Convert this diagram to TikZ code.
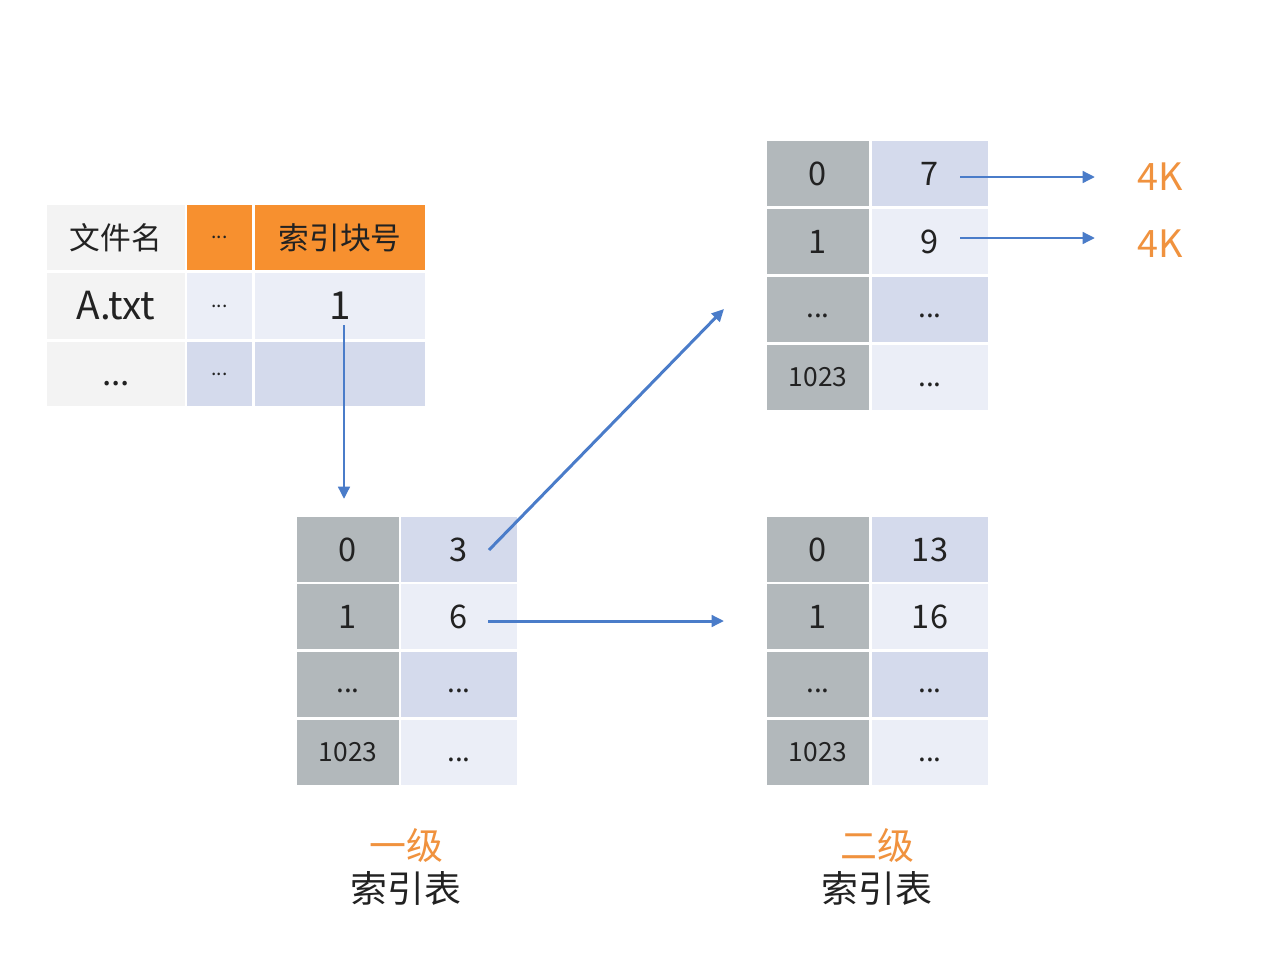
\documentclass[tikz,border=0pt]{standalone}
\usepackage{fontspec}
\setmainfont{Noto Sans CJK SC}
\usetikzlibrary{arrows.meta}
\definecolor{lgray}{HTML}{F3F3F3}
\definecolor{dgray}{HTML}{B2B8BB}
\definecolor{lblue}{HTML}{EBEEF7}
\definecolor{mblue}{HTML}{D4DAEC}
\definecolor{orng}{HTML}{F7902F}
\definecolor{otext}{HTML}{F0923E}
\definecolor{ablue}{HTML}{4A7CC9}
\definecolor{tblack}{HTML}{222222}
\newcommand\tcell[7]{\node[cell,fill=#6,minimum width=#4*0.02cm,minimum height=#5*0.02cm] (#1) at (#2,#3) {#7};}
\newcommand\dts[1]{\raisebox{-#1}[0pt][0pt]{\fontsize{16}{16}\selectfont ...}}
\tikzset{
  cell/.style={inner sep=0pt,outer sep=0pt,text=tblack},
  arr/.style={draw=ablue,line width=1.7pt,-{Triangle[length=7pt,width=6.5pt]}},
}
\begin{document}
\begin{tikzpicture}[x=0.02cm,y=-0.02cm]
\useasboundingbox[fill=white] (0,0) rectangle (1272,974);
% file table
\tcell{f11}{116}{237.5}{138}{65}{lgray}{\fontsize{17.5}{18}\selectfont 文件名}
\tcell{f12}{219.5}{237.5}{65}{65}{orng}{\fontsize{11}{11}\selectfont ...}
\tcell{f13}{340}{237.5}{170}{65}{orng}{\fontsize{17.5}{18}\selectfont 索引块号}
\tcell{f21}{116}{306}{138}{66}{lgray}{\fontsize{22}{22}\selectfont A.txt}
\tcell{f22}{219.5}{306}{65}{66}{lblue}{\fontsize{11}{11}\selectfont ...}
\tcell{f23}{340}{306}{170}{66}{lblue}{\fontsize{22}{22}\selectfont 1}
\tcell{f31}{116}{374}{138}{64}{lgray}{\raisebox{-6.5pt}[0pt][0pt]{\fontsize{19}{19}\selectfont ...}}
\tcell{f32}{219.5}{374}{65}{64}{mblue}{\fontsize{11}{11}\selectfont ...}
\tcell{f33}{340}{374}{170}{64}{mblue}{}
% level 1 table
\tcell{a11}{348}{549.5}{102}{65}{dgray}{\fontsize{18.5}{19}\selectfont 0}
\tcell{a12}{459}{549.5}{116}{65}{mblue}{\fontsize{18.5}{19}\selectfont 3}
\tcell{a21}{348}{616.5}{102}{65}{dgray}{\fontsize{18.5}{19}\selectfont 1}
\tcell{a22}{459}{616.5}{116}{65}{lblue}{\fontsize{18.5}{19}\selectfont 6}
\tcell{a31}{348}{684.5}{102}{65}{dgray}{\dts{4.4pt}}
\tcell{a32}{459}{684.5}{116}{65}{mblue}{\dts{4.4pt}}
\tcell{a41}{348}{752.5}{102}{65}{dgray}{\fontsize{15}{15}\selectfont 1023}
\tcell{a42}{459}{752.5}{116}{65}{lblue}{\dts{5pt}}
% level 2 top table
\tcell{b11}{818}{173.5}{102}{65}{dgray}{\fontsize{18.5}{19}\selectfont 0}
\tcell{b12}{930}{173.5}{116}{65}{mblue}{\fontsize{18.5}{19}\selectfont 7}
\tcell{b21}{818}{241.5}{102}{65}{dgray}{\fontsize{18.5}{19}\selectfont 1}
\tcell{b22}{930}{241.5}{116}{65}{lblue}{\fontsize{18.5}{19}\selectfont 9}
\tcell{b31}{818}{309.5}{102}{65}{dgray}{\dts{4.4pt}}
\tcell{b32}{930}{309.5}{116}{65}{mblue}{\dts{4.4pt}}
\tcell{b41}{818}{377.5}{102}{65}{dgray}{\fontsize{15}{15}\selectfont 1023}
\tcell{b42}{930}{377.5}{116}{65}{lblue}{\dts{5pt}}
% level 2 bottom table
\tcell{c11}{818}{549.5}{102}{65}{dgray}{\fontsize{18.5}{19}\selectfont 0}
\tcell{c12}{930}{549.5}{116}{65}{mblue}{\fontsize{18.5}{19}\selectfont 13}
\tcell{c21}{818}{616.5}{102}{65}{dgray}{\fontsize{18.5}{19}\selectfont 1}
\tcell{c22}{930}{616.5}{116}{65}{lblue}{\fontsize{18.5}{19}\selectfont 16}
\tcell{c31}{818}{684.5}{102}{65}{dgray}{\dts{4.4pt}}
\tcell{c32}{930}{684.5}{116}{65}{mblue}{\dts{4.4pt}}
\tcell{c41}{818}{752.5}{102}{65}{dgray}{\fontsize{15}{15}\selectfont 1023}
\tcell{c42}{930}{752.5}{116}{65}{lblue}{\dts{5pt}}
% 4K labels
\node[text=otext,font=\fontsize{21.5}{22}\selectfont,inner sep=0pt] (k1) at (1160,177) {4K};
\node[text=otext,font=\fontsize{21.5}{22}\selectfont,inner sep=0pt] (k2) at (1160,244) {4K};
% bottom labels
\node[text=otext,font=\fontsize{21}{21}\selectfont,inner sep=0pt] (l1a) at (406,845) {一级};
\node[text=tblack,font=\fontsize{21}{21}\selectfont,inner sep=0pt] (l1b) at (406,888) {索引表};
\node[text=otext,font=\fontsize{21}{21}\selectfont,inner sep=0pt] (l2a) at (877,845) {二级};
\node[text=tblack,font=\fontsize{21}{21}\selectfont,inner sep=0pt] (l2b) at (877,888) {索引表};
% connector end points
\coordinate (s1) at (344,325);
\coordinate (e1) at (344,499);
\coordinate (s2) at (489,550);
\coordinate (e2) at (724,309);
\coordinate (s3) at (488,621);
\coordinate (e3) at (724,621);
\coordinate (s4) at (960,177);
\coordinate (e4) at (1095,177);
\coordinate (s5) at (960,238);
\coordinate (e5) at (1095,238);
\draw[arr] (s1) -- (e1);
\draw[arr] (s2) -- (e2);
\draw[arr] (s3) -- (e3);
\draw[arr] (s4) -- (e4);
\draw[arr] (s5) -- (e5);
\end{tikzpicture}
\end{document}
